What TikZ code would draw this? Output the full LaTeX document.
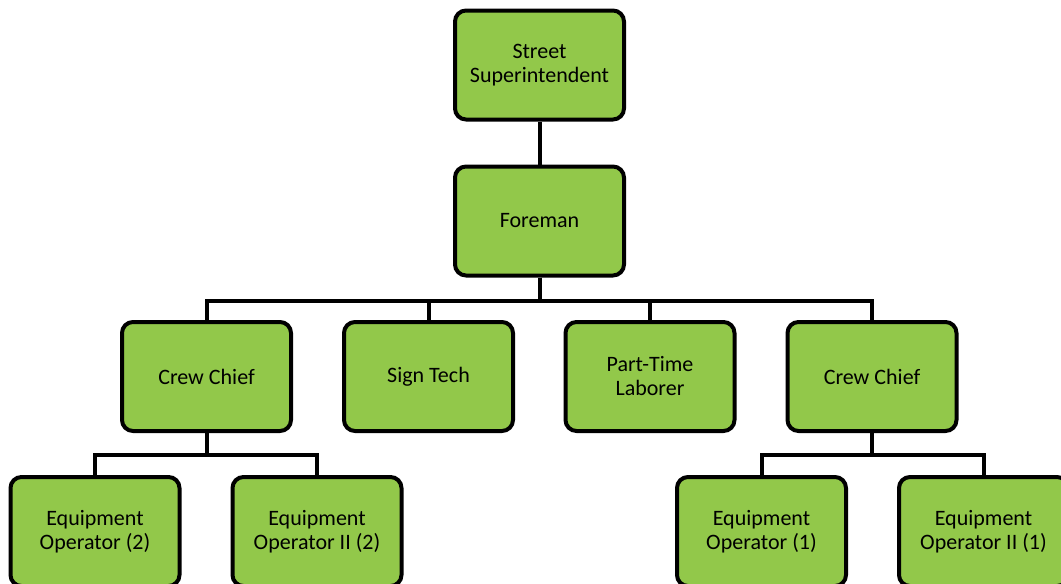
\documentclass[tikz,border=0pt]{standalone}
\usepackage{fontspec}
\setmainfont{Carlito}
\usepackage{tikz}
\usetikzlibrary{positioning, calc}
\definecolor{staffc}{RGB}{146,200,74}

\begin{document}
\begin{tikzpicture}[x={(1pt,0)}, y={(0,-1pt)},
  staff/.style={draw=black, fill=staffc, line width=4pt, rounded corners=11pt,
    minimum width=169pt, minimum height=109pt, align=center,
    font=\fontsize{22}{24}\selectfont},
  link/.style={line width=4pt}]
  \clip (0,0) rectangle (1061,584);
  \useasboundingbox (0,0) rectangle (1061,584);
  \node[staff] (super) at (539.5,65) {Street\\Superintendent};
  \node[staff] (foreman) at (539.5,221) {Foreman};
  \node[staff] (chiefL) at (206.5,376.5) {Crew Chief};
  \node[staff] (sign) at (428.5,376.5) {Sign Tech};
  \node[staff] (parttime) at (650,376.5) {Part-Time\\Laborer};
  \node[staff] (chiefR) at (872,376.5) {Crew Chief};
  \node[staff] (opL) at (95,531.5) {Equipment\\Operator (2)};
  \node[staff] (opIIL) at (317,531.5) {Equipment\\Operator II (2)};
  \node[staff] (opR) at (761.5,531.5) {Equipment\\Operator (1)};
  \node[staff] (opIIR) at (983.5,531.5) {Equipment\\Operator II (1)};
  \draw[link] (super) -- (foreman);
  \foreach \n in {chiefL, sign, parttime, chiefR}
    \draw[link] (foreman.south) -- ++(0,23) -| (\n.north);
  \foreach \n in {opL, opIIL}
    \draw[link] (chiefL.south) -- ++(0,22) -| (\n.north);
  \foreach \n in {opR, opIIR}
    \draw[link] (chiefR.south) -- ++(0,22) -| (\n.north);
\end{tikzpicture}
\end{document}
